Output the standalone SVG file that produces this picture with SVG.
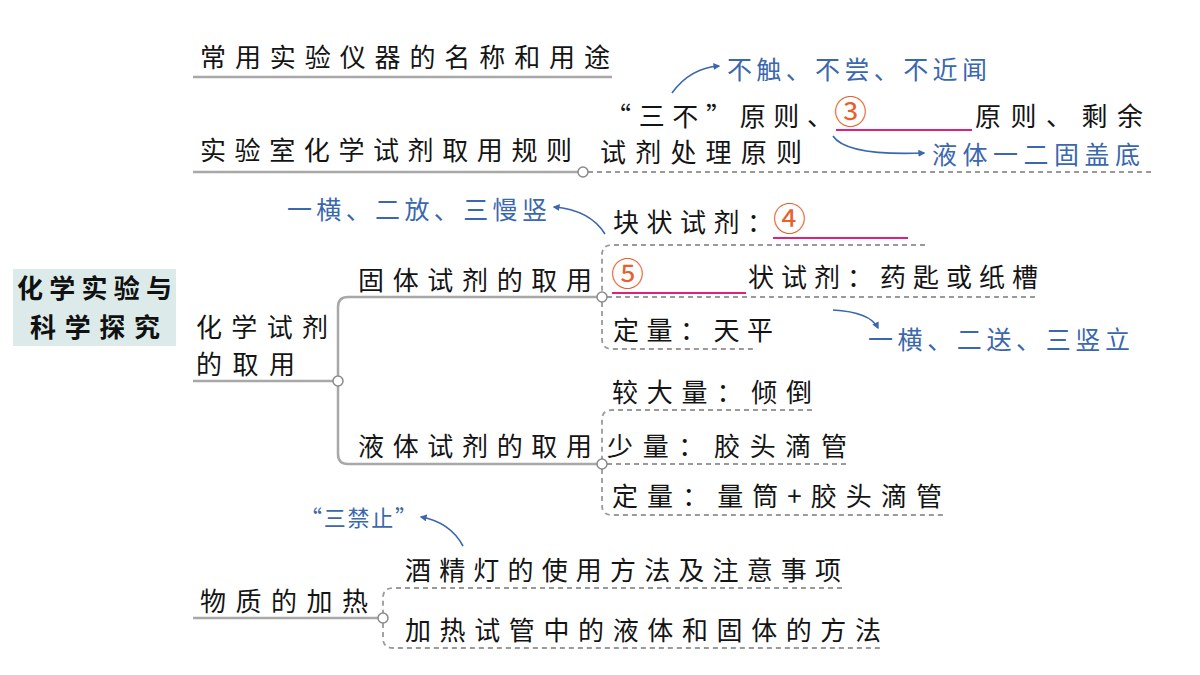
<svg xmlns="http://www.w3.org/2000/svg" width="1200" height="675" viewBox="0 0 1200 675">
<style>
.t{font-family:"Noto Sans CJK SC","Noto Sans",sans-serif;font-size:26px;fill:#141414}
.b{font-family:"Noto Sans CJK SC","Noto Sans",sans-serif;font-size:25px;fill:#3a67ad}
.r{font-family:"Noto Sans CJK SC","Noto Sans",sans-serif;font-size:26px;font-weight:bold;fill:#111}
.n{font-family:"Noto Sans CJK SC","DejaVu Sans",sans-serif;font-size:33px;fill:#e8602c}
.ln{fill:none;stroke:#a8a8a8;stroke-width:2.5}
.dl{fill:none;stroke:#9a9a9a;stroke-width:1.8;stroke-dasharray:5 4}
.dot{fill:#fff;stroke:#8a8a8a;stroke-width:1.5}
.pk{stroke:#e0207a;stroke-width:2}
.ar{fill:none;stroke:#3a67ad;stroke-width:1.6;marker-end:url(#ah)}
</style>
<defs>
<marker id="ah" viewBox="0 0 10 10" refX="8" refY="5" markerWidth="7" markerHeight="7" orient="auto" markerUnits="userSpaceOnUse">
<path d="M0 0 L10 5 L0 10 z" fill="#3a67ad"/>
</marker>
</defs>
<rect width="1200" height="675" fill="#fff"/>

<g id="connectors">
<path class="ln" d="M193 77 H612"/>
<path class="ln" d="M193 172 H578"/>
<path class="dl" d="M588 172 H1155"/>
<path class="ln" d="M193 381 H333"/>
<path class="ln" d="M338 376 V307 Q338 297 348 297 H597"/>
<path class="ln" d="M338 386 V454 Q338 464 348 464 H597"/>
<path class="dl" d="M925 245 H612 Q602 245 602 255 V292"/>
<path class="dl" d="M607 297 H1035"/>
<path class="dl" d="M602 302 V339 Q602 349 612 349 H757"/>
<path class="dl" d="M812 410 H612 Q602 410 602 420 V459"/>
<path class="dl" d="M607 464 H850"/>
<path class="dl" d="M602 469 V505 Q602 515 612 515 H943"/>
<path class="ln" d="M193 618 H378"/>
<path class="dl" d="M842 588 H393 Q383 588 383 598 V613"/>
<path class="dl" d="M383 623 V638 Q383 648 393 648 H882"/>
<circle class="dot" cx="583" cy="172" r="5"/>
<circle class="dot" cx="338" cy="381" r="5"/>
<circle class="dot" cx="602" cy="297" r="5"/>
<circle class="dot" cx="602" cy="464" r="5"/>
<circle class="dot" cx="383" cy="618" r="5"/>
<path class="ar" d="M672 93 Q690 68 719 66"/>
<path class="ar" d="M833 136 Q846 156 924 153"/>
<path class="ar" d="M605 234 Q590 210 554 207"/>
<path class="ar" d="M833 310 Q870 312 878 328"/>
<path class="ar" d="M463 546 Q450 522 421 517"/>
</g>

<g id="root">
<rect x="13" y="269" width="163" height="77" fill="#dcebea"/>
<text class="r" x="17" y="298" textLength="155">化学实验与</text>
<text class="r" x="30" y="337" textLength="130">科学探究</text>
</g>

<g id="n-instruments">
<text class="t" x="200" y="67" textLength="410">常用实验仪器的名称和用途</text>
</g>

<g id="n-rules">
<text class="t" x="200" y="160" textLength="372">实验室化学试剂取用规则</text>
</g>

<g id="n-rules-detail">
<text class="t" x="605" y="126" textLength="228">“三不”原则、</text>
<text class="n" x="834" y="124">③</text>
<line class="pk" x1="836" y1="130" x2="972" y2="130"/>
<text class="t" x="975" y="126" textLength="168">原则、剩余</text>
<text class="t" x="600" y="162" textLength="202">试剂处理原则</text>
</g>

<g id="a-sanbu"><text class="b" x="727" y="79" textLength="260">不触、不尝、不近闻</text></g>
<g id="a-yeti"><text class="b" x="932" y="164" textLength="208">液体一二固盖底</text></g>

<g id="n-reagent">
<text class="t" x="196" y="337" textLength="132">化学试剂</text>
<text class="t" x="196" y="374" textLength="99">的取用</text>
</g>

<g id="n-solid">
<text class="t" x="358" y="290" textLength="234">固体试剂的取用</text>
</g>
<g id="n-lump">
<text class="t" x="613" y="232" textLength="160">块状试剂：</text>
<text class="n" x="773" y="231">④</text>
<line class="pk" x1="773" y1="238" x2="908" y2="238"/>
</g>
<g id="n-powder">
<text class="n" x="611" y="286">⑤</text>
<line class="pk" x1="612" y1="293" x2="746" y2="293"/>
<text class="t" x="748" y="287" textLength="290">状试剂：药匙或纸槽</text>
</g>
<g id="n-solid-qty"><text class="t" x="613" y="340" textLength="160">定量：天平</text></g>
<g id="a-solid1"><text class="b" x="287" y="219" textLength="260">一横、二放、三慢竖</text></g>
<g id="a-solid2"><text class="b" x="868" y="349" textLength="262">一横、二送、三竖立</text></g>

<g id="n-liquid">
<text class="t" x="358" y="456" textLength="234">液体试剂的取用</text>
</g>
<g id="n-large"><text class="t" x="612" y="402" textLength="200">较大量：倾倒</text></g>
<g id="n-small"><text class="t" x="607" y="456" textLength="240">少量：胶头滴管</text></g>
<g id="n-liquid-qty"><text class="t" x="612" y="506" textLength="330">定量：量筒+胶头滴管</text></g>

<g id="n-heat">
<text class="t" x="200" y="611" textLength="168">物质的加热</text>
</g>
<g id="n-lamp"><text class="t" x="405" y="580" textLength="436">酒精灯的使用方法及注意事项</text></g>
<g id="n-tube"><text class="t" x="405" y="640" textLength="476">加热试管中的液体和固体的方法</text></g>
<g id="a-jin"><text class="b" x="300" y="526" style="font-size:22px" textLength="117">“三禁止”</text></g>
</svg>
